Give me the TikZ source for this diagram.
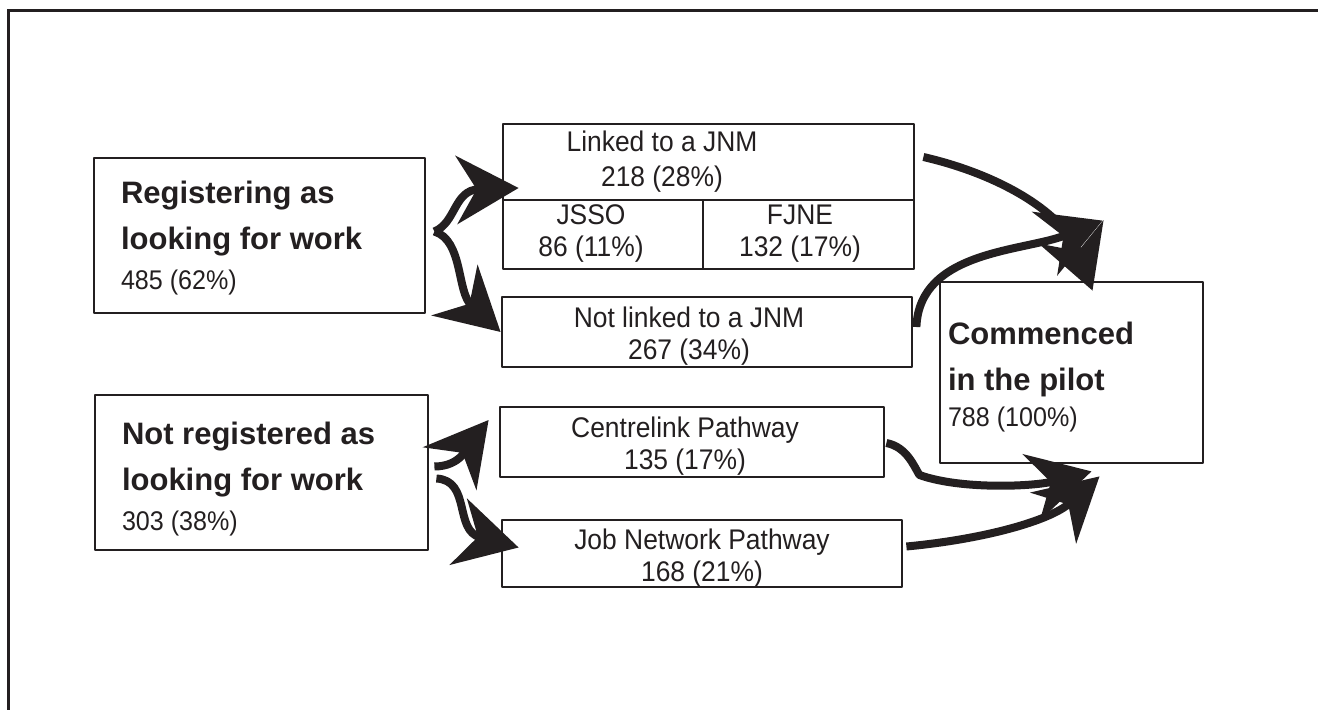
\documentclass[tikz,border=0pt]{standalone}
\usepackage{fontspec}
\setmainfont{Liberation Sans}[FakeStretch=0.93, BoldFeatures={FakeStretch=1}]
\usetikzlibrary{arrows.meta,calc}

\definecolor{ink}{RGB}{35,31,32}

% Text inside a box, moved off the box centre: dx, raise of first baseline, lines.
\newcommand\ctext[3]{\raisebox{#2}[0pt][0pt]{\makebox[0pt]{\hspace*{#1}\begin{tabular}[t]{@{}c@{}}#3\end{tabular}\hspace*{-#1}}}}
\newcommand\ltext[3]{\raisebox{#2}[0pt][0pt]{\makebox[0pt][l]{\hspace*{#1}\begin{tabular}[t]{@{}l@{}}#3\end{tabular}}}}
\newcommand\figs[1]{{\mdseries\fontsize{13.5}{15}\selectfont #1}}

\tikzset{
  frame/.style={draw=ink, line width=1.5pt, line join=miter},
  box/.style={draw=ink, line width=1.4pt, inner sep=0pt, text=ink,
    font=\fontsize{14.2}{16}\selectfont},
  headbox/.style={box, font=\bfseries\fontsize{15.5}{22.75}\selectfont},
  flow/.style={draw=ink, line width=4pt,
    -{Stealth[length=31pt,width=34pt,inset=10pt]}}
}

\begin{document}
\begin{tikzpicture}[x=0.5pt,y=-0.5pt,line join=round]
  % Match the page to the 1318 x 710 artwork.
  \useasboundingbox (0,0) rectangle (1318,710);

  % Outer frame, cut by the page on the right and at the bottom.
  \draw[frame] (8,720) -- (8,11) -- (1330,11);

  % Starting groups.
  \node[headbox, minimum width=165.5pt, minimum height=77.5pt] (reg) at (259.5,235.5)
    {\ltext{-69.25pt}{15.75pt}{Registering as\\looking for work\\[-2.75pt]\figs{485 (62\%)}}};
  \node[headbox, minimum width=166.5pt, minimum height=77.5pt] (notreg) at (261.5,472.5)
    {\ltext{-69.75pt}{13.75pt}{Not registered as\\looking for work\\[-2.75pt]\figs{303 (38\%)}}};

  % Middle column: JNM split and the two pathways.
  \node[box, minimum width=205.5pt, minimum height=38pt] (linked) at (708.5,162)
    {\ctext{-23.25pt}{5pt}{Linked to a JNM\\[1.5pt]218 (28\%)}};
  \node[box, minimum width=100pt, minimum height=34.5pt] (jsso) at (603,234.5)
    {\ctext{-6pt}{4.75pt}{JSSO\\86 (11\%)}};
  \node[box, minimum width=105.5pt, minimum height=34.5pt] (fjne) at (808.5,234.5)
    {\ctext{-4.25pt}{4.75pt}{FJNE\\132 (17\%)}};
  \node[box, minimum width=205pt, minimum height=35pt] (notlinked) at (707,332)
    {\ctext{-9pt}{2pt}{Not linked to a JNM\\267 (34\%)}};
  \node[box, minimum width=192pt, minimum height=35pt] (centre) at (692,442)
    {\ctext{-3.5pt}{2pt}{Centrelink Pathway\\135 (17\%)}};
  \node[box, minimum width=200pt, minimum height=33.5pt] (jobnet) at (702,553.5)
    {\ctext{0pt}{1.75pt}{Job Network Pathway\\168 (21\%)}};

  % Everyone ends up here.
  \node[headbox, minimum width=131.5pt, minimum height=90.5pt] (commenced) at (1071.5,372.5)
    {\ltext{-61.75pt}{13.75pt}{Commenced\\in the pilot\\[-4.75pt]\figs{788 (100\%)}}};

  % Flows out of the registration groups.
  \draw[flow] ($(reg.east)+(8,-4)$) .. controls +(22,-9) and +(-65,2) .. ($(linked.west)+(17,26)$);
  \draw[flow] ($(reg.east)+(8,-4)$) .. controls +(29,9) and +(-44,-40) .. (notlinked.west);
  \draw[flow] ($(notreg.east)+(5,-6)$) .. controls +(27,0) and +(-20,25) .. ($(centre.west)+(-10,-22)$);
  \draw[flow] ($(notreg.east)+(7,6)$) .. controls +(35,2) and +(-65,-17) .. ($(jobnet.west)+(18,-6)$);

  % Flows into the pilot.
  \draw[flow] ($(linked.east)+(8,-5)$) .. controls +(78,18) and +(-28,-77) .. ($(commenced.north)+(21,10)$);
  \draw[flow] ($(notlinked.east)+(3,-5)$) .. controls +(3,-77) and +(-78,31) .. ($(commenced.north)+(31,-60)$);
  \draw[flow] ($(centre.east)+(1,1)$) .. controls +(20,4) and +(-6,-10) .. ($(centre.east)+(34,33)$)
    .. controls +(42,15) and +(-57,15) .. ($(commenced.south)+(20,7)$);
  \draw[flow] ($(jobnet.east)+(3,-7)$) .. controls +(75,-7) and +(-50,45) .. ($(commenced.south)+(28,12)$);
\end{tikzpicture}
\end{document}
